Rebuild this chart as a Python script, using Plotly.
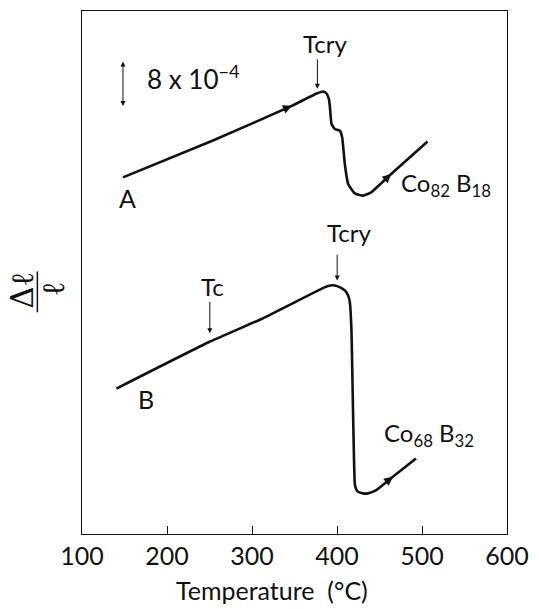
import plotly.graph_objects as go

# ---- data (temperature in °C, Δl/l in units of 1e-4, arbitrary offset) ----
temp_A = [148.2, 253.4, 346.8, 376.1, 383.9, 387.7, 390.5, 391.7, 393.6, 397.5,
          403.4, 406.1, 409.2, 413.1, 420.9, 430.6, 440.3, 463.7, 506.5]
dl_A = [62.05, 68.43, 74.50, 76.64, 76.99, 76.64, 75.67, 74.21, 71.33, 70.46,
        70.16, 69.00, 64.38, 60.91, 59.27, 58.87, 59.45, 62.64, 68.30]

temp_B = [140.5, 249.5, 311.8, 385.9, 392.1, 397.5, 403.7, 409.2, 413.1, 415.1,
          417.0, 420.9, 422.4, 424.8, 430.6, 436.4, 446.1, 465.7, 492.9]
dl_B = [25.30, 33.40, 37.46, 42.95, 43.24, 43.24, 42.90, 42.38, 41.51, 40.34,
        35.43, 8.81, 7.82, 7.35, 7.07, 7.07, 7.64, 9.95, 13.15]

x_ticks = [100, 200, 300, 400, 500, 600]
x_tick_labels = ["100", "200", "300", "400", "500", "600"]

FONT = "Lato, DejaVu Sans, sans-serif"
BLACK = "#111111"

fig = go.Figure()
for tx, ty in ((temp_A, dl_A), (temp_B, dl_B)):
    fig.add_trace(go.Scatter(x=tx, y=ty, mode="lines",
                             line=dict(color=BLACK, width=2.6, shape="spline", smoothing=0.4),
                             hoverinfo="skip", showlegend=False))

ann = []
# direction arrows on curves (head at a data point, tail toward previous point)
for tx, ty, i in ((temp_A, dl_A, 2), (temp_A, dl_A, 17), (temp_B, dl_B, 17)):
    ann.append(dict(x=tx[i], y=ty[i], ax=tx[i] - (tx[i] - tx[i-1]) * 0.35,
                    ay=ty[i] - (ty[i] - ty[i-1]) * 0.35,
                    xref="x", yref="y", axref="x", ayref="y", text="",
                    showarrow=True, arrowhead=2, arrowsize=1.1, arrowwidth=1.6,
                    arrowcolor=BLACK, standoff=0))

# marker arrows (Tcry, Tc) pointing down
for xh, yh, yt in ((376.9, 77.46, 82.84), (400.2, 44.11, 48.85), (250.4, 34.91, 40.64)):
    ann.append(dict(x=xh, y=yh, ax=xh, ay=yt, xref="x", yref="y", axref="x", ayref="y",
                    text="", showarrow=True, arrowhead=2, arrowsize=1.0, arrowwidth=1.0,
                    arrowcolor=BLACK, standoff=0))

# scale bar (double-headed)
ann.append(dict(x=148.2, y=82.2, ax=148.2, ay=74.2, xref="x", yref="y", axref="x", ayref="y",
                text="", showarrow=True, arrowhead=2, startarrowhead=2, arrowside="end+start",
                arrowsize=1.0, arrowwidth=1.0, arrowcolor=BLACK, standoff=0, startstandoff=0))

def label(text, x, y, size, xanchor="center"):
    ann.append(dict(x=x, y=y, xref="x", yref="y", text=text, showarrow=False,
                    xanchor=xanchor, yanchor="middle",
                    font=dict(family=FONT, size=size, color=BLACK)))

label("Tcry", 386.2, 85.3, 24)
label("Tcry", 414.3, 52.4, 24)
label("Tc", 253.0, 43.1, 24)
label("A", 153.7, 58.5, 25)
label("B", 174.8, 23.5, 25)
label("8 x 10<sup>−4</sup>", 173.6, 79.5, 26, xanchor="left")
label("Co<sub>82</sub> B<sub>18</sub>", 473.0, 60.8, 24, xanchor="left")
label("Co<sub>68</sub> B<sub>32</sub>", 453.0, 17.4, 24, xanchor="left")

# y-axis label: Δℓ / ℓ fraction, rotated
ann.append(dict(x=-0.140, y=0.466, xref="paper", yref="paper", text="Δℓ", textangle=-90,
                showarrow=False, xanchor="center", yanchor="middle",
                font=dict(family="DejaVu Serif, serif", size=31, color=BLACK)))
ann.append(dict(x=-0.068, y=0.468, xref="paper", yref="paper", text="ℓ", textangle=-90,
                showarrow=False, xanchor="center", yanchor="middle",
                font=dict(family="DejaVu Serif, serif", size=31, color=BLACK)))
# x-axis title
ann.append(dict(x=0.447, y=-0.107, xref="paper", yref="paper", text="Temperature  (°C)",
                showarrow=False, xanchor="center", yanchor="middle",
                font=dict(family=FONT, size=25, color=BLACK)))

fig.update_layout(
    width=539, height=609,
    margin=dict(l=82, r=29, t=10, b=75),
    paper_bgcolor="white", plot_bgcolor="white",
    annotations=ann,
    shapes=[dict(type="line", xref="paper", yref="paper", x0=-0.105, x1=-0.105,
                 y0=0.424, y1=0.502, line=dict(color=BLACK, width=1.5))],
    xaxis=dict(range=[100, 600], tickvals=x_ticks, ticktext=x_tick_labels,
               ticks="inside", ticklen=8, tickwidth=1, tickcolor=BLACK,
               showline=True, linecolor=BLACK, linewidth=1.2, mirror=True,
               showgrid=False, zeroline=False,
               tickfont=dict(family=FONT, size=25, color=BLACK)),
    yaxis=dict(range=[0, 91], showticklabels=False, ticks="",
               showline=True, linecolor=BLACK, linewidth=1.2, mirror=True,
               showgrid=False, zeroline=False),
)

fig.write_html("out.html")
